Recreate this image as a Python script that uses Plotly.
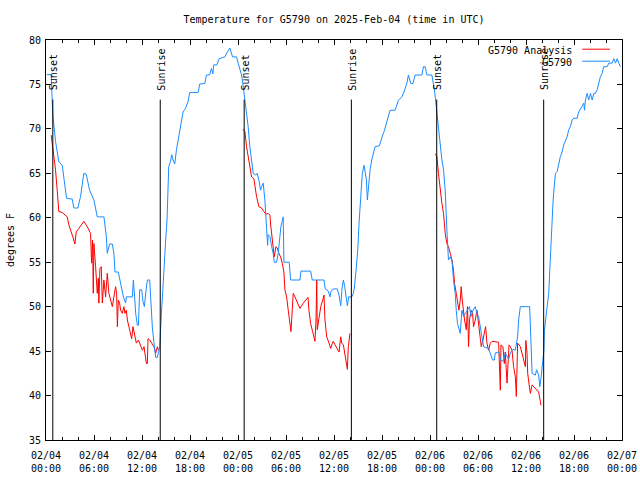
import pandas as pd
import plotly.graph_objects as go

START = pd.Timestamp("2025-02-04 00:00")

# Observed temperature (G5790), hours after 02/04 00:00 UTC and degrees F
obs_hours = [0.10,0.65,0.73,0.85,1.19,1.60,2.03,2.23,2.57,3.28,
             3.48,3.98,4.32,4.73,5.03,5.45,5.99,6.41,7.24,7.54,
             7.66,7.95,8.29,8.49,8.62,9.04,9.33,9.67,9.96,10.04,
             10.79,10.92,11.08,11.21,11.42,11.55,11.71,11.96,12.12,12.30,
             12.46,12.67,12.96,13.12,13.30,13.50,13.71,13.92,14.05,14.21,
             14.43,14.55,14.71,14.84,14.96,15.13,15.21,15.34,15.55,15.72,
             15.88,16.09,16.30,16.50,16.72,16.93,17.13,17.43,17.76,17.97,
             19.01,19.22,19.85,20.06,20.47,20.69,20.85,20.97,21.35,21.64,
             22.35,22.64,22.98,23.32,23.82,24.02,24.44,24.64,24.86,25.07,
             25.27,25.48,25.70,25.90,26.23,26.40,26.65,26.82,26.95,27.15,
             27.36,27.57,27.70,27.77,27.99,28.20,28.40,28.53,28.83,29.03,
             29.24,29.36,29.53,29.65,29.74,30.40,30.58,31.74,31.87,33.08,
             33.28,34.75,34.91,35.25,35.50,35.62,35.91,36.41,36.63,36.84,
             37.00,37.17,37.34,37.50,37.67,37.84,38.22,38.42,38.54,38.76,
             38.97,39.13,39.26,39.38,39.54,39.76,39.88,40.05,40.17,40.30,
             40.51,40.72,40.92,41.14,41.67,41.85,42.05,42.26,42.47,42.73,
             43.01,43.64,43.85,44.05,44.48,44.77,45.10,45.30,45.61,45.86,
             46.14,46.98,47.18,47.40,47.61,48.23,48.56,48.77,48.86,49.06,
             49.27,49.49,49.69,49.90,50.11,50.31,50.53,50.74,50.94,51.15,
             51.28,51.44,51.78,51.99,52.19,52.40,52.69,52.94,53.12,53.37,
             53.66,53.87,54.07,54.28,54.50,54.70,55.32,55.54,55.82,56.04,
             56.16,56.58,56.87,57.20,57.41,57.70,57.83,58.04,58.38,58.67,
             58.83,58.95,59.08,59.29,60.46,60.58,60.76,61.17,61.33,61.58,
             61.73,61.88,62.05,62.24,62.30,62.42,62.64,62.84,62.96,63.11,
             63.26,63.39,63.55,63.68,63.89,64.09,64.30,64.51,64.71,65.14,
             65.34,65.55,65.77,65.97,66.39,66.59,66.81,67.02,67.22,67.31,
             67.43,67.64,67.84,68.06,68.27,68.47,68.68,68.89,69.10,69.31,
             69.52,69.72,70.15,70.35,70.77,70.97,71.19,71.40,71.60,71.81]
obs_temp = [76.1,76.1,74.2,71.6,68.6,66.3,65.9,64.25,62.2,62.1,
            61.1,61.1,62.4,65.0,64.9,63.1,62.0,60.1,60.1,57.9,
            56.0,57.05,57.05,56.0,53.9,53.9,52.6,51.1,50.4,51.1,
            51.1,53.0,51.1,49.25,47.9,47.9,51.9,51.9,50.6,50.0,
            51.5,53.0,53.0,50.0,47.6,45.9,44.3,44.3,44.9,45.5,
            49.25,51.5,53.75,55.6,57.5,59.75,62.4,65.75,66.3,67.1,
            66.5,66.05,67.6,68.6,69.5,70.6,71.9,72.3,73.1,74.1,
            74.1,75.05,75.1,76.06,76.1,76.8,76.2,77.2,77.2,77.9,
            78.1,78.6,79.1,78.1,78.1,77.4,76.06,74.9,73.25,72.1,
            70.25,68.0,66.1,65.0,64.8,65.0,64.1,63.1,63.5,63.9,
            62.0,58.1,56.9,58.1,57.9,56.75,56.0,55.0,55.0,56.0,
            57.9,59.0,59.6,60.1,55.0,55.0,53.0,53.0,54.0,54.0,
            53.0,53.0,52.0,51.8,51.1,51.7,52.0,52.0,51.3,50.1,
            52.0,53.0,52.25,51.3,50.1,51.1,51.1,51.5,52.1,54.1,
            56.4,59.4,61.25,63.7,65.0,65.9,65.2,64.25,62.0,63.5,
            65.4,66.5,67.25,68.0,68.1,68.75,69.2,69.7,70.4,71.2,
            72.1,72.1,72.8,73.2,73.6,74.2,75.1,76.06,75.1,75.1,
            76.06,76.06,77.0,77.0,76.06,76.06,74.4,72.7,71.4,69.7,
            68.0,66.5,65.4,63.1,58.6,55.25,55.6,55.25,53.0,51.5,
            49.6,48.1,47.0,49.6,48.9,49.25,49.6,50.0,48.9,49.6,
            50.0,49.25,48.9,47.75,46.6,45.5,45.3,44.8,44.0,44.0,
            44.8,44.9,43.9,43.9,44.8,44.3,44.1,44.8,45.2,45.1,
            46.0,46.6,48.5,50.0,50.0,46.6,42.5,42.3,42.9,42.3,
            41.0,42.0,43.6,45.1,47.3,48.6,50.0,51.5,54.0,57.0,
            59.0,62.0,63.7,65.0,65.2,66.1,66.9,67.4,68.2,69.1,
            69.9,70.25,71.0,71.2,71.2,71.9,72.3,72.7,72.9,72.1,
            73.25,74.0,73.25,74.0,73.25,74.0,74.0,74.4,75.1,75.9,
            76.25,77.0,77.0,77.4,77.4,77.9,77.4,77.9,77.4,77.0]

# Analysis temperature (G5790 Analysis), one segment per night
ana_night1_hours = [0.65,0.78,0.98,1.19,1.40,1.53,1.60,2.03,2.44,2.65,
                    2.86,3.19,3.48,3.61,3.78,4.11,4.53,4.73,5.16,5.57,
                    5.70,5.82,5.91,5.99,6.20,6.41,6.54,6.61,6.74,6.91,
                    7.04,7.24,7.45,7.66,7.86,8.08,8.29,8.70,8.83,8.92,
                    9.04,9.20,9.33,9.54,9.74,9.87,10.04,10.17,10.37,10.71,
                    10.87,11.12,11.29,11.55,11.83,12.05,12.25,12.37,12.55,12.67,
                    12.75,12.96,13.21,13.50,13.71,13.92,14.05]
ana_night1_temp = [69.3,68.4,66.5,65.4,63.1,61.4,60.7,60.6,60.3,60.1,
                   59.2,58.4,57.5,57.05,58.4,58.8,59.4,59.6,59.0,58.25,
                   54.9,57.5,51.5,57.1,54.5,51.5,53.2,50.4,54.3,54.5,
                   50.4,53.0,51.1,53.75,51.5,50.75,50.0,52.25,51.5,47.75,
                   50.75,50.4,49.6,49.25,50.0,49.25,49.6,48.5,47.75,46.4,
                   47.75,46.8,45.9,46.25,45.5,45.1,45.5,44.4,43.6,43.6,
                   46.4,46.25,45.9,45.5,44.75,45.5,45.1]
ana_night2_hours = [24.64,24.86,25.07,25.27,25.48,25.70,25.98,26.11,26.32,26.61,
                    26.95,27.24,27.49,27.77,27.99,28.11,28.27,28.40,28.53,28.74,
                    28.90,29.11,29.33,29.53,29.74,29.86,30.08,30.28,30.49,30.62,
                    30.78,30.90,31.12,31.41,31.74,32.16,32.49,32.75,32.87,33.08,
                    33.33,33.62,33.75,33.84,33.91,34.09,34.34,34.59,34.75,34.87,
                    35.09,35.38,35.59,35.79,35.91,36.13,36.41,36.63,36.84,36.97,
                    37.17,37.38,37.59,37.67,37.79,37.92,38.00]
ana_night2_temp = [69.95,69.7,68.0,66.9,65.6,64.6,64.4,63.5,62.4,61.25,
                   61.1,60.7,60.4,60.5,60.3,59.0,57.5,56.75,55.6,56.75,
                   56.6,56.0,55.6,54.9,53.9,51.9,51.1,49.6,48.1,47.2,
                   49.6,51.5,51.1,50.4,49.8,50.4,50.75,51.05,49.6,48.1,
                   47.2,46.1,48.5,53.0,47.4,48.5,50.0,50.75,51.3,48.5,
                   46.6,45.9,45.3,45.9,46.1,45.7,45.3,44.9,46.6,45.9,
                   45.7,44.4,43.4,42.95,45.5,46.8,47.0]
ana_night3_hours = [48.65,48.86,49.06,49.27,49.49,49.69,49.90,50.11,50.31,50.53,
                    50.74,50.94,51.07,51.28,51.44,51.62,51.78,51.90,52.03,52.19,
                    52.32,52.53,52.69,52.82,52.94,53.12,53.32,53.44,53.66,53.87,
                    53.99,54.19,54.41,54.62,54.78,54.95,55.12,55.32,55.54,55.75,
                    56.58,56.79,56.87,57.12,57.29,57.41,57.63,57.75,57.88,58.04,
                    58.25,58.45,58.67,58.79,58.88,58.95,59.29,59.50,59.70,59.92,
                    59.98,60.13,60.21,60.38,60.54,60.76,61.05,61.38,61.58,61.80,
                    61.88]
ana_night3_temp = [67.2,66.9,65.0,63.1,61.6,60.5,58.25,57.1,56.75,56.0,
                   55.25,54.1,52.6,51.5,50.4,49.6,50.75,52.25,50.75,49.25,
                   48.5,47.4,50.0,45.5,48.5,49.6,49.25,47.75,48.5,49.6,
                   48.5,47.0,45.5,46.25,47.0,47.75,45.9,45.1,45.9,46.1,
                   46.0,40.6,45.7,45.5,43.6,44.9,41.4,44.5,45.7,45.5,
                   45.1,43.25,42.1,39.9,44.9,45.9,45.5,44.75,44.0,43.25,
                   46.2,44.75,42.5,41.4,40.25,41.2,40.9,40.6,40.4,39.3,
                   38.9]

# Sunset / sunrise events
event_hours = [0.85, 14.28, 24.77, 38.17, 48.84, 62.21]
event_labels = ["Sunset", "Sunrise", "Sunset", "Sunrise", "Sunset", "Sunrise"]

title_text = "Temperature for G5790 on 2025-Feb-04 (time in UTC)"
y_title = "degrees F"
series_names = ["G5790 Analysis", "G5790"]

RED = "#ff0000"
BLUE = "#1a8cff"
FONT = "DejaVu Sans Mono"


def to_time(hours):
    return [START + pd.Timedelta(hours=h) for h in hours]


ana_x, ana_y = [], []
for hrs, tmp in [(ana_night1_hours, ana_night1_temp),
                 (ana_night2_hours, ana_night2_temp),
                 (ana_night3_hours, ana_night3_temp)]:
    if ana_x:
        ana_x.append(None)
        ana_y.append(None)
    ana_x.extend(to_time(hrs))
    ana_y.extend(tmp)

fig = go.Figure()
fig.add_trace(go.Scatter(x=ana_x, y=ana_y, mode="lines", name=series_names[0],
                         line=dict(color=RED, width=1), connectgaps=False))
fig.add_trace(go.Scatter(x=to_time(obs_hours), y=obs_temp, mode="lines",
                         name=series_names[1], line=dict(color=BLUE, width=1)))

for t, lab in zip(to_time(event_hours), event_labels):
    fig.add_shape(type="line", xref="x", yref="paper", x0=t, x1=t, y0=0, y1=0.851,
                  line=dict(color="black", width=1))
    fig.add_annotation(x=t, y=0.869, xref="x", yref="paper", text=lab, textangle=-90,
                       showarrow=False, xanchor="center", yanchor="bottom", xshift=1,
                       font=dict(family=FONT, size=10, color="black"))

# manual legend (text right-aligned, line sample on the right, as in gnuplot)
legend_rows = [(series_names[0], RED, 0.975), (series_names[1], BLUE, 0.945)]
for name, col, yy in legend_rows:
    fig.add_annotation(x=0.917, y=yy, xref="paper", yref="paper", text=name,
                       showarrow=False, xanchor="right", yanchor="middle",
                       font=dict(family=FONT, size=10, color="black"))
    fig.add_shape(type="line", xref="paper", yref="paper", x0=0.931, x1=0.979,
                  y0=yy + 0.002, y1=yy + 0.002, line=dict(color=col, width=1))

fig.update_layout(
    width=640, height=480,
    margin=dict(l=46, r=18, t=40, b=40),
    paper_bgcolor="white", plot_bgcolor="white",
    font=dict(family=FONT, size=10, color="black"),
    showlegend=False,
    title=dict(text=title_text, x=0.5, xref="paper", xanchor="center",
               y=0.96, yref="container", yanchor="middle",
               font=dict(family=FONT, size=10, color="black")),
)
fig.update_xaxes(
    type="date", range=[START, START + pd.Timedelta(hours=72)],
    dtick=6 * 3600 * 1000, tick0=START, tickformat="%m/%d<br>%H:%M",
    ticks="inside", ticklen=5, tickcolor="black", ticklabelstandoff=6,
    minor=dict(dtick=2 * 3600 * 1000, ticks="inside", ticklen=3, tickcolor="black"),
    showline=True, linecolor="black", linewidth=1, mirror="ticks",
    showgrid=False, zeroline=False, automargin=False,
)
fig.update_yaxes(
    range=[35, 80], dtick=5, tick0=35,
    ticks="inside", ticklen=5, tickcolor="black", ticklabelstandoff=2,
    showline=True, linecolor="black", linewidth=1, mirror="ticks",
    showgrid=False, zeroline=False, automargin=False,
    title=dict(text=y_title, standoff=12, font=dict(family=FONT, size=10)),
)

fig.write_html("out.html", config={"displayModeBar": False},
               post_script="document.body.style.margin='0';")
